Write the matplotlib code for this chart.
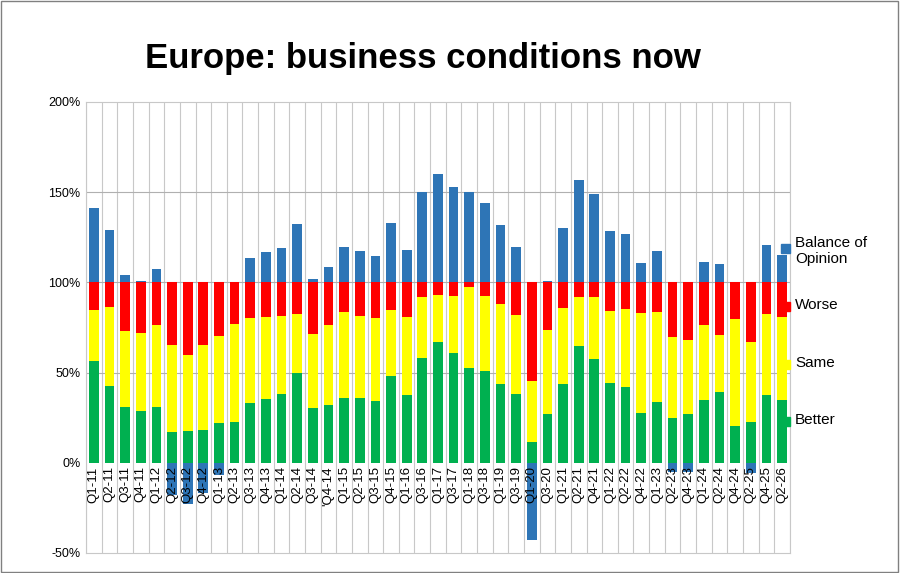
import matplotlib.pyplot as plt
import numpy as np
from matplotlib.patches import Rectangle

quarters = ["Q1-11", "Q2-11", "Q3-11", "Q4-11", "Q1-12", "Q2-12", "Q3-12", "Q4-12", "Q1-13",
            "Q2-13", "Q3-13", "Q4-13", "Q1-14", "Q2-14", "Q3-14", "'Q4-14", "Q1-15", "Q2-15",
            "Q3-15", "Q4-15", "Q1-16", "Q3-16", "Q1-17", "Q3-17", "Q1-18", "Q3-18", "Q1-19",
            "Q3-19", "Q1-20", "Q3-20", "Q1-21", "Q2-21", "Q4-21", "Q1-22", "Q2-22", "Q4-22",
            "Q1-23", "Q2-23", "Q4-23", "Q1-24", "Q2-24", "Q4-24", "Q2-25", "Q4-25", "Q2-26"]

better = [56.4, 42.3, 31.1, 28.7, 30.9, 17.0, 17.7, 17.9, 22.2, 22.7, 32.9, 35.3, 37.9, 49.9,
          30.1, 31.8, 35.7, 35.7, 34.2, 48.2, 37.3, 58.2, 67.1, 60.6, 52.7, 50.8, 43.8, 37.9,
          11.6, 27.2, 43.6, 64.7, 57.3, 44.2, 42.0, 27.4, 33.8, 25.0, 27.0, 34.8, 39.4, 20.3,
          22.6, 37.7, 34.6]
# top of the "same" segment (better + same)
better_same = [84.7, 86.5, 73.0, 71.9, 76.2, 65.2, 59.7, 65.1, 70.4, 77.1, 80.4, 81.0, 81.3,
               82.4, 71.3, 76.3, 83.4, 81.5, 80.4, 84.5, 80.6, 91.7, 92.8, 92.4, 97.2, 92.6,
               88.2, 81.9, 45.3, 73.6, 86.0, 92.1, 91.9, 84.3, 85.0, 83.2, 83.5, 69.7, 67.8,
               76.5, 70.8, 79.5, 66.9, 82.6, 80.6]
balance = [41.2, 28.8, 4.0, 0.6, 7.2, -18.0, -22.6, -17.0, -7.0, 0.0, 13.3, 16.6, 19.2, 32.5,
           1.7, 8.3, 19.4, 17.4, 14.8, 32.7, 17.9, 50.1, 59.9, 53.0, 50.1, 43.8, 32.0, 19.8,
           -42.9, 0.6, 29.9, 56.9, 49.2, 28.5, 27.0, 10.7, 17.4, -5.0, -5.0, 11.5, 10.4, 0.0,
           -5.5, 20.5, 15.3]

better = np.array(better)
better_same = np.array(better_same)
same = better_same - better
worse = 100 - better_same
balance = np.array(balance)
bal_bottom = np.where(balance >= 0, 100, 0)

x = np.arange(len(quarters))
w = 0.62
font = "Liberation Sans"

fig = plt.figure(figsize=(9, 5.73), dpi=100)
ax = fig.add_axes([0.0956, 0.035, 0.782, 0.787])

ax.bar(x, better, w, color="#00b050", zorder=3)
ax.bar(x, same, w, bottom=better, color="#ffff00", zorder=3)
ax.bar(x, worse, w, bottom=better_same, color="#ff0000", zorder=3)
ax.bar(x, balance, w, bottom=bal_bottom, color="#2e75b6", zorder=3)

ax.set_xlim(-0.5, len(quarters) - 0.5)
ax.set_ylim(-50, 200)
ax.set_yticks([-50, 0, 50, 100, 150, 200])
ax.set_yticklabels(["-50%", "0%", "50%", "100%", "150%", "200%"], fontsize=9, family=font)
ax.tick_params(axis="y", length=0, pad=4)
ax.set_xticks([])
for xv in np.arange(-0.5, len(quarters), 1):
    ax.axvline(xv, color="#c8c8c8", lw=0.8, zorder=1)
for yv in [50, 100, 150]:
    ax.axhline(yv, color="#b0b0b0", lw=0.8, zorder=1)
for s in ax.spines.values():
    s.set_color("#c8c8c8")

for xi, q in zip(x, quarters):
    ax.text(xi, -2, q, rotation=90, ha="center", va="top", fontsize=9.5, family=font, zorder=4)

# legend entries placed like the original (pixel rows 248, 306, 364, 421)
legend_items = [("Balance of\nOpinion", "#2e75b6", 248), ("Worse", "#ff0000", 306),
                ("Same", "#ffff00", 364), ("Better", "#00b050", 421)]
for lab, col, py in legend_items:
    yf = 1 - py / 573
    fig.patches.append(Rectangle((781 / 900, yf - 5 / 573), 9 / 900, 9 / 573,
                                 transform=fig.transFigure, color=col))
    fig.text(795 / 900, yf + 0.002, lab, ha="left", va="top" if "\n" in lab else "center",
             fontsize=11, family=font, linespacing=1.2)
    if "\n" in lab:
        fig.texts[-1].set_y(yf + 12 / 573)

fig.text(0.47, 0.898, "Europe: business conditions now", ha="center", va="center",
         fontsize=25, fontweight="bold", family=font)
fig.patches.append(Rectangle((0.001, 0.001), 0.997, 0.997, transform=fig.transFigure,
                             fill=False, edgecolor="#808080", lw=1))

fig.savefig("out.png", dpi=100)
